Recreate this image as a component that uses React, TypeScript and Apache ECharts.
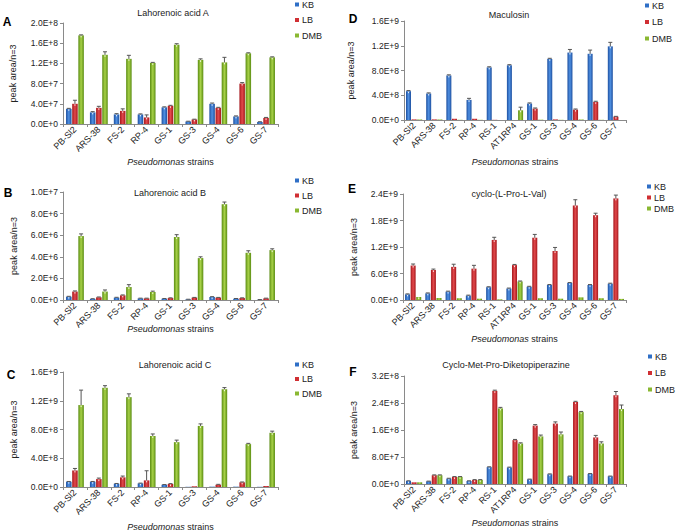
import React, { useEffect, useRef } from "react";
import * as echarts from "echarts";

const catsABC = ["PB-Sl2", "ARS-38", "FS-2", "RP-4", "GS-1", "GS-3", "GS-4", "GS-6", "GS-7"];
const catsDEF = ["PB-Sl2", "ARS-38", "FS-2", "RP-4", "RS-1", "AT1RP4", "GS-1", "GS-3", "GS-4", "GS-6", "GS-7"];
const seriesNames = ["KB", "LB", "DMB"];

// Panel A: Lahorenoic acid A
const kbA = [3.0e7, 2.3e7, 1.9e7, 1.9e7, 3.3e7, 0.5e7, 4.0e7, 1.5e7, 0.4e7];
const kbAErr = [0.1e7, 0.15e7, 0.15e7, 0.1e7, 0.1e7, 0.05e7, 0.15e7, 0.1e7, 0.05e7];
const lbA = [4.0e7, 3.2e7, 2.6e7, 1.3e7, 3.6e7, 0.9e7, 3.2e7, 8.0e7, 1.2e7];
const lbAErr = [0.7e7, 0.3e7, 0.4e7, 0.5e7, 0.1e7, 0.05e7, 0.1e7, 0.2e7, 0.1e7];
const dmbA = [1.755e8, 1.37e8, 1.29e8, 1.21e8, 1.57e8, 1.27e8, 1.22e8, 1.4e8, 1.32e8];
const dmbAErr = [0.01e8, 0.06e8, 0.07e8, 0.01e8, 0.02e8, 0.02e8, 0.1e8, 0.01e8, 0.01e8];

// Panel B: Lahorenoic acid B
const kbB = [3.1e5, 1.0e5, 2.2e5, 1.5e5, 1.2e5, 0.6e5, 2.8e5, 1.2e5, 0.3e5];
const kbBErr = [0.3e5, 0.2e5, 0.3e5, 0.2e5, 0.2e5, 0.1e5, 0.3e5, 0.2e5, 0.1e5];
const lbB = [7.8e5, 2.5e5, 4.3e5, 1.5e5, 1.8e5, 2.2e5, 2.2e5, 1.8e5, 1.5e5];
const lbBErr = [0.6e5, 0.3e5, 0.4e5, 0.2e5, 0.2e5, 0.2e5, 0.2e5, 0.2e5, 0.2e5];
const dmbB = [5.92e6, 7.8e5, 1.2e6, 7.4e5, 5.83e6, 3.88e6, 8.87e6, 4.37e6, 4.62e6];
const dmbBErr = [0.2e6, 0.15e6, 0.22e6, 0.08e6, 0.22e6, 0.12e6, 0.2e6, 0.19e6, 0.12e6];

// Panel C: Lahorenoic acid C
const kbC = [7.4e7, 7.4e7, 4.6e7, 5.1e7, 3.2e7, 0.3e7, 0.5e7, 0.5e7, 0.3e7];
const kbCErr = [0.3e7, 0.3e7, 0.3e7, 0.3e7, 0.2e7, 0, 0, 0, 0];
const lbC = [2.3e8, 1.1e8, 1.34e8, 9.2e7, 4.2e7, 1.0e7, 3.2e7, 6.5e7, 1.4e7];
const lbCErr = [0.28e8, 0.14e8, 0.18e8, 1.34e8, 0.05e8, 0, 0.05e8, 0.05e8, 0];
const dmbC = [1.14e9, 1.38e9, 1.25e9, 7.1e8, 6.24e8, 8.5e8, 1.36e9, 5.97e8, 7.54e8];
const dmbCErr = [2.08e8, 0.3e8, 0.46e8, 0.28e8, 0.28e8, 0.28e8, 0.23e8, 0.1e8, 0.23e8];

// Panel D: Maculosin
const kbD = [4.66e8, 4.28e8, 7.2e8, 3.25e8, 8.5e8, 8.84e8, 2.66e8, 9.87e8, 1.09e9, 1.07e9, 1.19e9];
const kbDErr = [0.1e8, 0.1e8, 0.1e8, 0.25e8, 0.1e8, 0.1e8, 0.1e8, 0.1e8, 0.5e8, 0.6e8, 0.65e8];
const lbD = [1.0e7, 1.0e7, 2.0e7, 2.0e7, 0.3e7, 0, 1.84e8, 1.0e7, 1.68e8, 2.93e8, 5.4e7];
const lbDErr = [0, 0, 0, 0, 0, 0, 0.1e8, 0, 0.1e8, 0.1e8, 0.05e8];
const dmbD = [0.8e7, 0.8e7, 0.3e7, 0.3e7, 0, 1.57e8, 0.5e7, 0.3e7, 0.8e7, 0.3e7, 0];
const dmbDErr = [0, 0, 0, 0, 0, 0.5e8, 0, 0, 0, 0, 0];

// Panel E: cyclo-(L-Pro-L-Val)
const kbE = [1.28e8, 1.5e8, 1.9e8, 1.0e8, 2.9e8, 2.6e8, 3.0e8, 3.4e8, 3.85e8, 3.4e8, 3.7e8];
const kbEErr = [0.1e8, 0.1e8, 0.1e8, 0.1e8, 0.1e8, 0.1e8, 0.1e8, 0.1e8, 0.1e8, 0.1e8, 0.1e8];
const lbE = [7.8e8, 6.8e8, 7.5e8, 7.1e8, 1.36e9, 7.9e8, 1.41e9, 1.11e9, 2.14e9, 1.92e9, 2.3e9];
const lbEErr = [0.35e8, 0.2e8, 0.6e8, 0.75e8, 0.6e8, 0.15e8, 0.75e8, 0.8e8, 1.3e8, 0.45e8, 0.75e8];
const dmbE = [0.68e8, 0.45e8, 0.4e8, 0.3e8, 0.15e8, 4.2e8, 0.4e8, 0.3e8, 0.6e8, 0.4e8, 0.25e8];
const dmbEErr = [0, 0, 0, 0, 0, 0.1e8, 0, 0, 0, 0, 0];

// Panel F: Cyclo-Met-Pro-Diketopiperazine
const kbF = [0.9e7, 0.8e7, 1.6e7, 0.9e7, 5.0e7, 4.9e7, 1.4e7, 2.9e7, 2.3e7, 3.0e7, 2.3e7];
const kbFErr = [0.05e7, 0.05e7, 0.1e7, 0.05e7, 0.1e7, 0.1e7, 0.05e7, 0.1e7, 0.05e7, 0.1e7, 0.05e7];
const lbF = [0.5e7, 2.6e7, 2.1e7, 1.2e7, 2.76e8, 1.3e8, 1.73e8, 1.79e8, 2.43e8, 1.38e8, 2.63e8];
const lbFErr = [0, 0.1e7, 0.1e7, 0.1e7, 0.02e8, 0.02e8, 0.03e8, 0.05e8, 0.02e8, 0.06e8, 0.11e8];
const dmbF = [0.5e7, 2.6e7, 2.1e7, 1.2e7, 2.24e8, 1.2e8, 1.41e8, 1.47e8, 2.13e8, 1.2e8, 2.22e8];
const dmbFErr = [0, 0.1e7, 0.1e7, 0.1e7, 0.03e8, 0.02e8, 0.04e8, 0.07e8, 0.02e8, 0.05e8, 0.12e8];

const FONT = "Liberation Sans, Arial, sans-serif";
const TXT = "#222";

function sci(v: number): string {
  if (v === 0) return "0.0E+0";
  let e = Math.floor(Math.log10(v) + 1e-9);
  let m = Math.round((v / Math.pow(10, e)) * 10) / 10;
  if (m >= 10) {
    m = m / 10;
    e += 1;
  }
  return m.toFixed(1) + "E+" + e;
}

const grad = (dark: string, light: string) =>
  new echarts.graphic.LinearGradient(0, 0, 1, 0, [
    { offset: 0, color: dark },
    { offset: 0.5, color: light },
    { offset: 1, color: dark },
  ]);

export default function App() {
  const ref = useRef<HTMLDivElement>(null);
  useEffect(() => {
    if (!ref.current) return;
    const chart = echarts.init(ref.current, null, { renderer: "svg" });
    const colors = [
      () => grad("#1d4f9f", "#4f90e2"),
      () => grad("#a5171c", "#e2494c"),
      () => grad("#5a8c12", "#a8d248"),
    ];
    const legendColors = ["#2f6fc6", "#d02f33", "#8ab832"];
    const GAP = 0.12;

    const panels = [
      { letter: "A", title: "Lahorenoic acid A", cats: catsABC, data: [kbA, lbA, dmbA], errs: [kbAErr, lbAErr, dmbAErr], max: 2e8, interval: 4e7,
        grid: { left: 63, top: 23, width: 215, height: 101 }, barW: 5.5, letterPos: [7, 22], titlePos: [173, 13],
        legend: { left: 295, top: 0, gap: 6.5 }, xNameGap: 33, yNameGap: 46 },
      { letter: "B", title: "Lahorenoic acid B", cats: catsABC, data: [kbB, lbB, dmbB], errs: [kbBErr, lbBErr, dmbBErr], max: 1e7, interval: 2e6,
        grid: { left: 63, top: 192, width: 215, height: 108 }, barW: 5.5, letterPos: [8, 193], titlePos: [170, 193],
        legend: { left: 295, top: 176, gap: 6 }, xNameGap: 24, yNameGap: 45 },
      { letter: "C", title: "Lahorenoic acid C", cats: catsABC, data: [kbC, lbC, dmbC], errs: [kbCErr, lbCErr, dmbCErr], max: 1.6e9, interval: 4e8,
        grid: { left: 63, top: 372, width: 215, height: 115 }, barW: 5.5, letterPos: [11, 375], titlePos: [175, 365],
        legend: { left: 295, top: 360, gap: 5.5 }, xNameGap: 35, yNameGap: 45 },
      { letter: "D", title: "Maculosin", cats: catsDEF, data: [kbD, lbD, dmbD], errs: [kbDErr, lbDErr, dmbDErr], max: 1.6e9, interval: 4e8,
        grid: { left: 404, top: 21, width: 222, height: 99 }, barW: 5, letterPos: [353, 19], titlePos: [509, 15],
        legend: { left: 645, top: 1, gap: 7.5 }, xNameGap: 37, yNameGap: 49 },
      { letter: "E", title: "cyclo-(L-Pro-L-Val)", cats: catsDEF, data: [kbE, lbE, dmbE], errs: [kbEErr, lbEErr, dmbEErr], max: 2.4e9, interval: 6e8,
        grid: { left: 403, top: 194, width: 223, height: 106 }, barW: 5, letterPos: [352, 189], titlePos: [509, 194],
        legend: { left: 647, top: 182, gap: 2 }, xNameGap: 34, yNameGap: 45 },
      { letter: "F", title: "Cyclo-Met-Pro-Diketopiperazine", cats: catsDEF, data: [kbF, lbF, dmbF], errs: [kbFErr, lbFErr, dmbFErr], max: 3.2e8, interval: 8e7,
        grid: { left: 404, top: 376, width: 222, height: 108 }, barW: 5, letterPos: [353, 372], titlePos: [506, 365],
        legend: { left: 648, top: 352, gap: 7.5 }, xNameGap: 34, yNameGap: 46 },
    ];

    const grids: any[] = [];
    const xAxes: any[] = [];
    const yAxes: any[] = [];
    const series: any[] = [];
    const legends: any[] = [];
    const graphics: any[] = [];

    panels.forEach((p, gi) => {
      grids.push({ ...p.grid, containLabel: false });
      xAxes.push({
        type: "category", gridIndex: gi, data: p.cats,
        axisLine: { lineStyle: { color: "#8a8a8a", width: 1 } },
        axisTick: { show: true, alignWithLabel: false, length: 3, lineStyle: { color: "#8a8a8a" } },
        axisLabel: { rotate: 45, interval: 0, fontSize: 9, color: TXT, fontFamily: FONT, margin: 4 },
        name: "{i|Pseudomonas} {n|strains}", nameLocation: "middle", nameGap: p.xNameGap, nameMoveOverlap: false,
        nameTextStyle: {
          fontSize: 9, color: TXT, fontFamily: FONT, fontWeight: "normal",
          rich: {
            i: { fontStyle: "italic", fontWeight: "normal", fontSize: 9, color: TXT, fontFamily: FONT },
            n: { fontStyle: "normal", fontWeight: "normal", fontSize: 9, color: TXT, fontFamily: FONT },
          },
        },
      });
      yAxes.push({
        type: "value", gridIndex: gi, min: 0, max: p.max, interval: p.interval,
        splitLine: { show: false },
        axisLine: { show: true, lineStyle: { color: "#8a8a8a", width: 1 } },
        axisTick: { show: true, length: 3, lineStyle: { color: "#8a8a8a" } },
        axisLabel: { fontSize: 8.5, color: TXT, fontFamily: FONT, margin: 5, formatter: (v: number) => sci(v) },
        name: "peak area/n=3", nameLocation: "middle", nameGap: p.yNameGap, nameRotate: 90, nameMoveOverlap: false,
        nameTextStyle: { fontSize: 9, color: TXT, fontFamily: FONT, fontWeight: "normal" },
      });
      p.data.forEach((vals, si) => {
        series.push({
          type: "bar", name: seriesNames[si], xAxisIndex: gi, yAxisIndex: gi,
          data: vals, barWidth: p.barW, barGap: GAP * 100 + "%",
          itemStyle: { color: colors[si]() },
        });
      });
      p.data.forEach((vals, si) => {
        const errs = p.errs[si];
        const off = (si - 1) * p.barW * (1 + GAP);
        series.push({
          type: "custom", xAxisIndex: gi, yAxisIndex: gi, z: 10, silent: true,
          encode: { x: 0, y: 1 },
          data: vals.map((v, i) => [i, v, errs[i]]),
          renderItem: (_params: any, api: any) => {
            const i = api.value(0);
            const v = api.value(1);
            const e = api.value(2);
            const p0 = api.coord([i, v]);
            const x = p0[0] + off;
            const children: any[] = [];
            if (v > 0 && p.grid.top + p.grid.height - p0[1] > 3) {
              children.push({ type: "line", shape: { x1: x, y1: p0[1] + 0.5, x2: x, y2: p0[1] + 2 }, style: { stroke: "rgba(255,255,255,0.85)", lineWidth: 1 } });
            }
            if (e > 0) {
              const p1 = api.coord([i, v + e]);
              children.push({ type: "line", shape: { x1: x, y1: p0[1], x2: x, y2: p1[1] }, style: { stroke: "#555", lineWidth: 1 } });
              children.push({ type: "line", shape: { x1: x - 2, y1: p1[1], x2: x + 2, y2: p1[1] }, style: { stroke: "#555", lineWidth: 1 } });
            }
            return { type: "group", children };
          },
        });
      });
      legends.push({
        orient: "vertical", left: p.legend.left, top: p.legend.top, itemGap: p.legend.gap,
        itemWidth: 4, itemHeight: 4, icon: "rect", padding: 0, selectedMode: false,
        textStyle: { fontSize: 9, color: TXT, fontFamily: FONT, padding: [0, 0, 0, -2] },
        data: seriesNames.map((n, k) => ({ name: n, itemStyle: { color: legendColors[k] } })),
      });
      graphics.push({
        type: "text", x: p.letterPos[0], y: p.letterPos[1],
        style: { text: p.letter, fontSize: 12, fontWeight: "bold", fill: "#000", fontFamily: FONT, textAlign: "center", textVerticalAlign: "middle" },
      });
      graphics.push({
        type: "text", x: p.titlePos[0], y: p.titlePos[1],
        style: { text: p.title, fontSize: 9, fill: TXT, fontFamily: FONT, textAlign: "center", textVerticalAlign: "middle" },
      });
    });

    chart.setOption({
      animation: false,
      backgroundColor: "#ffffff",
      grid: grids,
      xAxis: xAxes,
      yAxis: yAxes,
      series,
      legend: legends,
      graphic: graphics,
    });
    return () => chart.dispose();
  }, []);
  return <div ref={ref} style={{ position: "fixed", left: 0, top: 0, width: 676, height: 532 }} />;
}
